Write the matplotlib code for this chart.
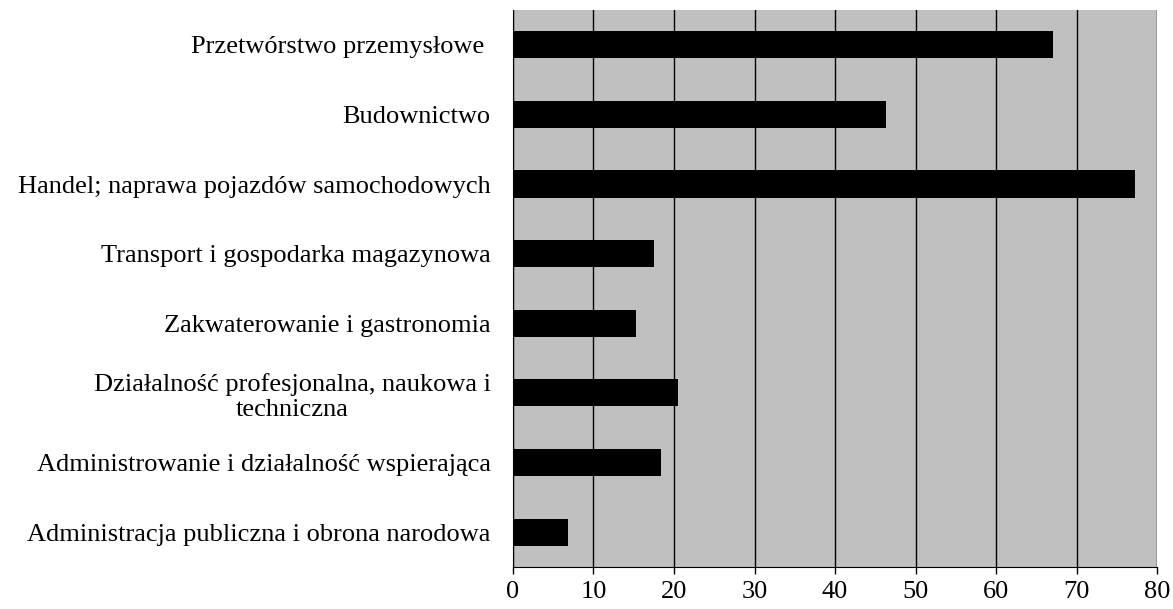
import matplotlib.pyplot as plt

categories = [
    "Przetwórstwo przemysłowe ",
    "Budownictwo",
    "Handel; naprawa pojazdów samochodowych",
    "Transport i gospodarka magazynowa",
    "Zakwaterowanie i gastronomia",
    "Działalność profesjonalna, naukowa i\ntechniczna",
    "Administrowanie i działalność wspierająca",
    "Administracja publiczna i obrona narodowa",
]
values = [67.1, 46.3, 77.3, 17.5, 15.3, 20.5, 18.4, 6.8]
x_ticks = [0, 10, 20, 30, 40, 50, 60, 70, 80]

plt.rcParams["font.family"] = ["Liberation Serif", "DejaVu Serif"]

fig = plt.figure(figsize=(11.73, 6.09), dpi=100)
ax = fig.add_axes([0.4373, 0.069, 0.5492, 0.9146])
ax.set_facecolor("#c0c0c0")

positions = list(range(len(categories)))
ax.barh(positions, values, height=0.39, color="black", zorder=3)

ax.set_xlim(0, 80)
ax.set_ylim(len(categories) - 0.5, -0.5)
ax.set_xticks(x_ticks)
ax.set_xticklabels([str(t) for t in x_ticks], fontsize=19)
ax.set_yticks(positions)
ax.set_yticklabels(categories, fontsize=19, multialignment="center",
                   linespacing=1.2)

ax.xaxis.grid(True, color="black", linewidth=1.0, zorder=1)
ax.set_axisbelow(True)
ax.tick_params(axis="y", length=0, pad=16)
ax.tick_params(axis="x", length=5, width=1, color="black", pad=5)

for side in ["top", "right"]:
    ax.spines[side].set_visible(False)
ax.spines["left"].set_color("black")
ax.spines["bottom"].set_color("black")

plt.savefig("out.png", dpi=100)
